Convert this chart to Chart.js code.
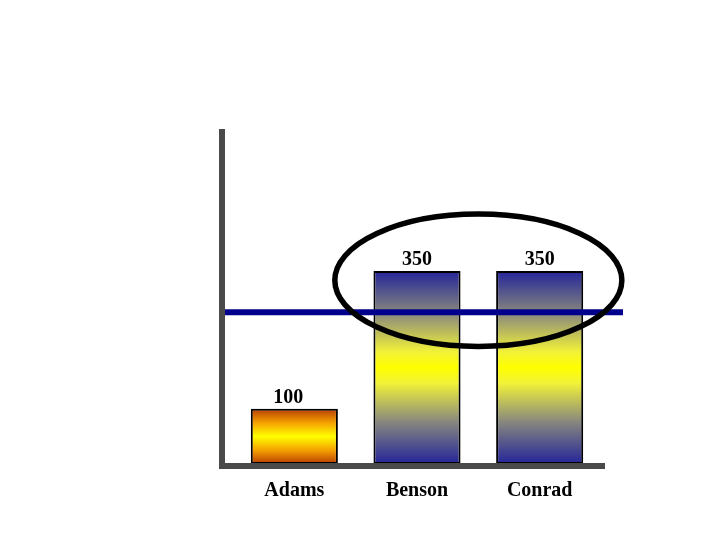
<!DOCTYPE html>
<html>
<head>
<meta charset="utf-8">
<script src="https://cdn.jsdelivr.net/npm/chart.js@4"></script>
<style>
html,body{margin:0;padding:0;background:#fff;}
#wrap{width:720px;height:540px;}
</style>
</head>
<body>
<div id="wrap"><canvas id="c" width="720" height="540"></canvas></div>
<script>
const categories = ['Adams', 'Benson', 'Conrad'];
const values = [100, 350, 350];
const referenceValue = 275;
const yMax = 600;
const ellipseCenterValue = 333;
const ellipseRadiusValue = 120;

const fontSerif = "'Liberation Serif', 'DejaVu Serif', serif";

function barGradient(ctx) {
  const chart = ctx.chart;
  if (!chart.chartArea) return '#ffff00';
  const y = chart.scales.y;
  const v = ctx.raw;
  const top = y.getPixelForValue(v);
  const bottom = y.getPixelForValue(0);
  const g = chart.ctx.createLinearGradient(0, top, 0, bottom);
  if (ctx.dataIndex === 0) {
    g.addColorStop(0, '#b83c00');
    g.addColorStop(0.25, '#f5a000');
    g.addColorStop(0.5, '#ffff00');
    g.addColorStop(0.75, '#f5a000');
    g.addColorStop(1, '#b83c00');
  } else {
    g.addColorStop(0, '#24249a');
    g.addColorStop(0.22, '#88887e');
    g.addColorStop(0.42, '#f2f238');
    g.addColorStop(0.5, '#ffff00');
    g.addColorStop(0.58, '#f2f238');
    g.addColorStop(0.78, '#88887e');
    g.addColorStop(1, '#24249a');
  }
  return g;
}

const decor = {
  id: 'decor',
  afterDatasetsDraw(chart) {
    const c = chart.ctx;
    const a = chart.chartArea;
    const x = chart.scales.x, y = chart.scales.y;
    const meta = chart.getDatasetMeta(0);
    c.save();
    // value labels
    c.fillStyle = '#000';
    c.font = 'bold 20px ' + fontSerif;
    c.textAlign = 'center';
    c.textBaseline = 'bottom';
    meta.data.forEach((bar, i) => {
      c.fillText(String(values[i]), bar.x - (i === 0 ? 6 : 0), bar.y - 1);
    });
    // axes
    c.strokeStyle = '#4a4a4a';
    c.lineWidth = 6;
    c.lineCap = 'butt';
    c.beginPath();
    c.moveTo(a.left - 11, a.top - 4);
    c.lineTo(a.left - 11, a.bottom + 5);
    c.moveTo(a.left - 14, a.bottom + 2);
    c.lineTo(a.right + 4, a.bottom + 2);
    c.stroke();
    // reference line
    const ry = y.getPixelForValue(referenceValue);
    c.strokeStyle = '#00008c';
    c.lineWidth = 6;
    c.beginPath();
    c.moveTo(a.left - 8, ry);
    c.lineTo(a.right + 22, ry);
    c.stroke();
    // ellipse
    const x1 = x.getPixelForValue(1), x2 = x.getPixelForValue(2);
    const cx = (x1 + x2) / 2;
    const cy = y.getPixelForValue(ellipseCenterValue);
    const rx = (x2 - x1) * 1.17;
    const rY = y.getPixelForValue(0) - y.getPixelForValue(ellipseRadiusValue);
    c.strokeStyle = '#000';
    c.lineWidth = 5.5;
    c.beginPath();
    c.ellipse(cx, cy, rx, rY, 0, 0, Math.PI * 2);
    c.stroke();
    c.restore();
  }
};

new Chart(document.getElementById('c'), {
  type: 'bar',
  data: {
    labels: categories,
    datasets: [{
      data: values,
      backgroundColor: barGradient,
      borderColor: '#000',
      borderWidth: 2,
      borderSkipped: false,
      barPercentage: 0.71,
      categoryPercentage: 1
    }]
  },
  options: {
    responsive: false,
    animation: false,
    events: [],
    layout: { padding: { left: 233, right: 119, top: 133, bottom: 22 } },
    plugins: { legend: { display: false }, tooltip: { enabled: false } },
    scales: {
      x: {
        grid: { display: false, drawTicks: false, tickLength: 0 },
        border: { display: false },
        ticks: { color: '#000', font: { family: fontSerif, size: 20, weight: 'bold' }, padding: 15, maxRotation: 0 }
      },
      y: {
        display: false,
        min: 0,
        max: yMax
      }
    }
  },
  plugins: [decor]
});
</script>
</body>
</html>
